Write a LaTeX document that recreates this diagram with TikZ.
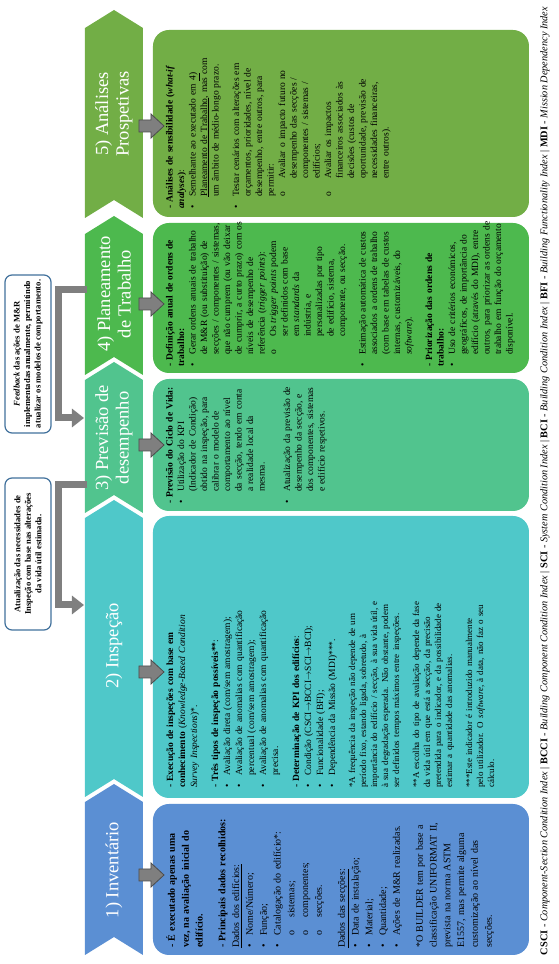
\documentclass[tikz,border=0pt]{standalone}
\usepackage{fontspec}
\setmainfont{Liberation Serif}
\usetikzlibrary{arrows.meta}

\definecolor{invcol}{HTML}{5B8FD3}
\definecolor{inspcol}{HTML}{4FC8C9}
\definecolor{prevcol}{HTML}{51C48E}
\definecolor{plancol}{HTML}{4DB94E}
\definecolor{analcol}{HTML}{72AE46}
\definecolor{callblue}{HTML}{41719C}
\definecolor{linegray}{HTML}{7F7F7F}

% list lines with hanging indent
\newcommand{\gap}{\par\vspace{9pt}}
\newcommand{\hd}{\par\noindent}
\newcommand{\bitem}{\par\hangindent=12pt\hangafter=1\noindent\makebox[12pt][l]{\textbullet}}
\newcommand{\sitem}{\par\hangindent=30pt\hangafter=1\noindent\hspace*{12pt}\makebox[18pt][l]{o}}

\tikzset{
  headtext/.style={text=white, align=center, font=\fontsize{18.5}{20.5}\selectfont},
  boxtext/.style={anchor=north west, inner sep=0pt, align=left, font=\fontsize{9.5}{11.5}\selectfont},
  callbox/.style={draw=callblue, line width=1.2pt, rounded corners=7pt, fill=white, align=center, inner sep=2pt, minimum height=46pt, font=\bfseries\fontsize{8.6}{10.5}\selectfont},
  grayline/.style={draw=linegray, line width=7pt, -{Triangle[width=18pt,length=12pt]}},
  blockarr/.style={fill=linegray, draw=black!70, line width=0.8pt},
  colbox/.style={rounded corners=16pt}
}

\begin{document}
\begin{tikzpicture}[x=1pt, y=1pt, rotate=90, transform shape]
	\useasboundingbox (0,0) rectangle (964,559);

	% headers
	\foreach \L/\R/\c in {9/162/invcol, 167/446/inspcol, 451/584/prevcol, 589/730/plancol, 746/936/analcol}
		\fill[\c] (\L,416) -- (\R,416) -- (\R+18,445) -- (\R,474) -- (\L,474) -- (\L+18,445) -- cycle;

	\node[headtext] (invhead)  at (94,445)  {1) Inventário};
	\node[headtext] (insphead) at (318,445) {2) Inspeção};
	\node[headtext] (prevhead) at (526,445) {3) Previsão de\\desempenho};
	\node[headtext] (planhead) at (670,445) {4) Planeamento\\de Trabalho};
	\node[headtext] (analhead) at (850,445) {5) Análises\\Prospetivas};

	% boxes
	\foreach \L/\R/\c in {9/160/invcol, 166/448/inspcol, 453/585/prevcol, 591/741/plancol, 747/934/analcol}
		\fill[\c, colbox] (\L,30) rectangle (\R,406);

	\foreach \x in {89, 292, 519, 660, 838}
		\filldraw[blockarr] (\x-6,420) -- (\x+6,420) -- (\x+6,408) -- (\x+12,408) -- (\x,395) -- (\x-12,408) -- (\x-6,408) -- cycle;

	% callouts
	\node[callbox, minimum width=158pt] (fbnote) at (610,531) {\textit{Feedback} das ações de M\&R\\implementadas anualmente, permitindo\\atualizar os modelos de comportamento.};
	\node[callbox, minimum width=152pt] (atnote) at (410,531) {Atualização das necessidades de\\Inspeção com base nas alterações\\da vida útil estimada.};

	\coordinate (lvl) at (0,500);
	\coordinate (fbA) at (674,472);
	\coordinate (fbB) at (546,475);
	\coordinate (atA) at (479,472);
	\coordinate (atB) at (359,475);
	\draw[grayline] (fbA) -- (fbA |- lvl) -- (fbB |- lvl) -- (fbB);
	\draw[grayline] (atA) -- (atA |- lvl) -- (atB |- lvl) -- (atB);

	% texts
	\node[boxtext, text width=145pt, font=\fontsize{10}{13.8}\selectfont] (invtxt) at (16,398) {%
		\hd\textbf{- É executado apenas uma\newline vez, na avaliação inicial do\newline edifício.}\gap
		\hd\textbf{- Principais dados recolhidos:}
		\hd\underline{Dados dos edifícios:}
		\bitem Nome/Número;
		\bitem Função;
		\bitem Catalogação do edifício*:
		\sitem sistemas;
		\sitem componentes;
		\sitem secções.\gap
		\hd\underline{Dados das secções:}
		\bitem Data de instalação;
		\bitem Material;
		\bitem Quantidade;
		\bitem Ações de M\&R realizadas.\gap
		\hd *O BUILDER tem por base a\newline classificação UNIFORMAT II,\newline prevista na norma ASTM\newline E1557, mas permite alguma\newline customização ao nível das\newline secções.\par};

	\node[boxtext, text width=270pt, font=\fontsize{9.5}{12}\selectfont] (insptxt) at (176,398) {%
		\hd\textbf{- Execução de inspeções com base em\newline conhecimento} (\textit{Knowledge-Based Condition\newline Survey Inspections})*.\gap
		\hd\textbf{- Três tipos de inspeção possíveis**}:
		\bitem Avaliação direta (com/sem amostragem);
		\bitem Avaliação de anomalias com quantificação\newline percentual (com/sem amostragem);
		\bitem Avaliação de anomalias com quantificação\newline precisa.\gap
		\hd\textbf{- Determinação de KPI dos edifícios}:
		\bitem Condição (CSCI$\to$BCCI$\to$SCI$\to$BCI);
		\bitem Funcionalidade (BFI);
		\bitem Dependência da Missão (MDI)***.\gap
		\fontsize{9}{11}\selectfont
		\hd *A frequência da inspeção não depende de um\newline período fixo, estando ligada, sobretudo, à\newline importância do edifício / secção, à sua vida útil, e\newline à sua degradação esperada. Não obstante, podem\newline ser definidos tempos máximos entre inspeções.\gap
		\hd **A escolha do tipo de avaliação depende da fase\newline da vida útil em que está a secção, da precisão\newline pretendida para o indicador, e da possibilidade de\newline estimar a quantidade das anomalias.\gap
		\hd ***Este indicador é introduzido manualmente\newline pelo utilizador. O \textit{software}, à data, não faz o seu\newline cálculo.\par};

	\node[boxtext, text width=128pt] (prevtxt) at (460,398) {%
		\hd\textbf{- Previsão do Ciclo de Vida:}
		\bitem Utilização do KPI\newline (Indicador de Condição)\newline obtido na inspeção, para\newline calibrar o modelo de\newline comportamento ao nível\newline da secção, tendo em conta\newline a realidade local da\newline mesma.\par\vspace{14pt}
		\bitem Atualização da previsão de\newline desempenho da secção, e\newline dos componentes, sistemas\newline e edifício respetivos.\par};

	\node[boxtext, text width=148pt] (plantxt) at (597,398) {%
		\hd\textbf{- Definição anual de ordens de\newline trabalho:}
		\bitem Gerar ordens anuais de trabalho\newline de M\&R (ou substituição) de\newline secções / componentes / sistemas,\newline que não cumprem (ou vão deixar\newline de cumprir, a curto prazo) com os\newline níveis de desempenho de\newline referência (\textit{trigger points}):
		\sitem Os \textit{trigger points} podem\newline ser definidos com base\newline em \textit{standards} da\newline indústria, e\newline personalizadas por tipo\newline de edifício, sistema,\newline componente, ou secção.\gap
		\bitem Estimação automática de custos\newline associados a ordens de trabalho\newline (com base em tabelas de custos\newline internas, customizáveis, do\newline \textit{software}).\gap
		\hd\textbf{- Priorização das ordens de\newline trabalho:}
		\bitem Uso de critérios económicos,\newline geográficos, de importância do\newline edifício (através do MDI), entre\newline outros, para priorizar as ordens de\newline trabalho em função do orçamento\newline disponível.\par};

	\node[boxtext, text width=180pt] (analtxt) at (755,398) {%
		\hd\textbf{- Análises de sensibilidade (\textit{what-if}\newline \textit{analyses})}:
		\bitem Semelhante ao executado em \underline{4)}\newline \underline{Planeamento de Trabalho}, mas com\newline um âmbito de médio-longo prazo.\gap
		\bitem Testar cenários com alterações em\newline orçamentos, prioridades, nível de\newline desempenho, entre outros, para\newline permitir:
		\sitem Avaliar o impacto futuro no\newline desempenho das secções /\newline componentes / sistemas /\newline edifícios;
		\sitem Avaliar os impactos\newline financeiros associados às\newline decisões (custos de\newline oportunidade, previsão de\newline necessidades financeiras,\newline entre outros).\par};

	% legend
	\node[inner sep=0pt, font=\fontsize{10}{12}\selectfont] (legend) at (483,14) {\resizebox{948pt}{!}{\textbf{CSCI} - \textit{Component-Section Condition Index} | \textbf{BCCI} - \textit{Building Component Condition Index} | \textbf{SCI} - \textit{System Condition Index} | \textbf{BCI} - \textit{Building Condition Index} | \textbf{BFI} - \textit{Building Functionality Index} | \textbf{MDI} - \textit{Mission Dependency Index}}};

\end{tikzpicture}
\end{document}
